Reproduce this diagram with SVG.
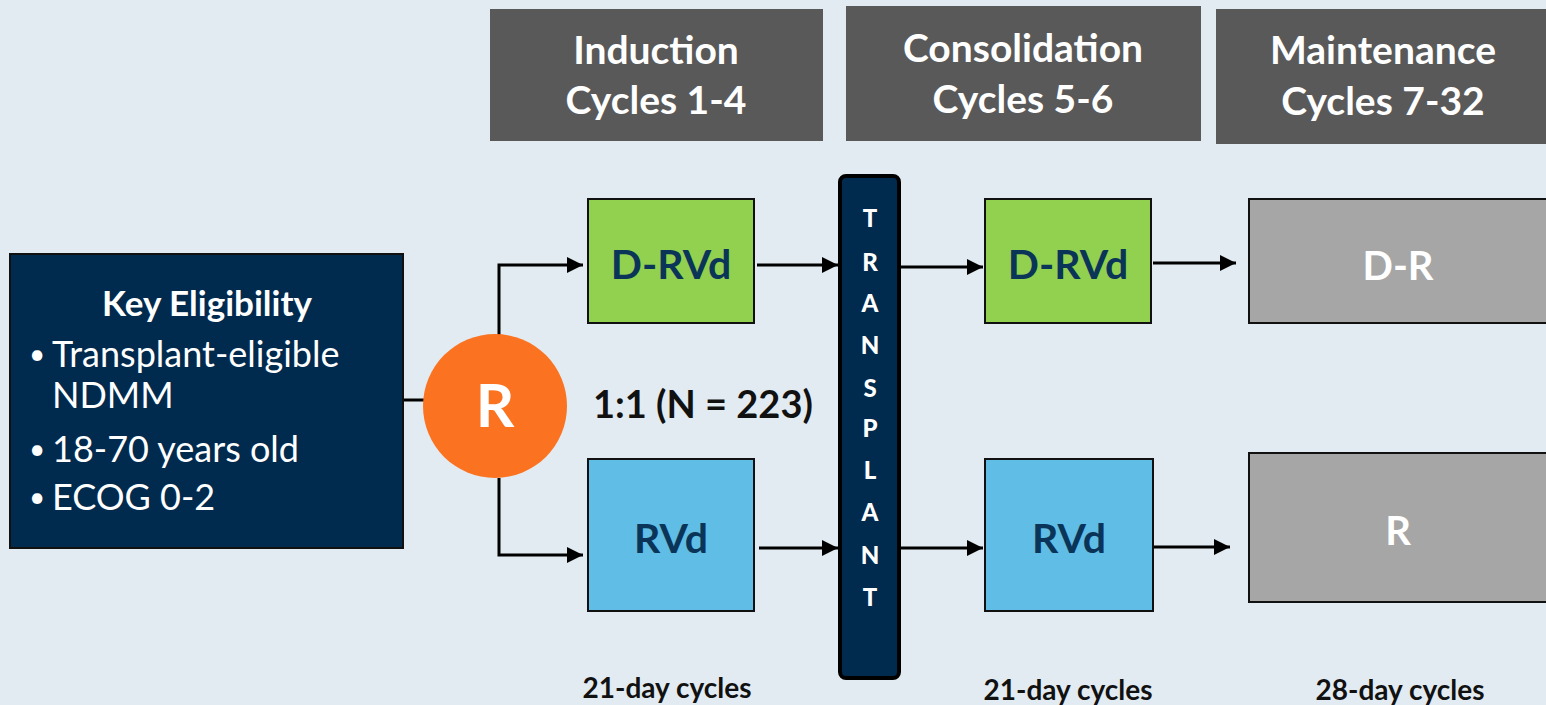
<svg xmlns="http://www.w3.org/2000/svg" width="1546" height="705" viewBox="0 0 1546 705">
<defs>
<style>
text{font-family:Lato,"Open Sans","Liberation Sans",sans-serif;font-weight:bold}
.hdr{fill:#595959}
.ht{fill:#fff;font-size:39px;text-anchor:middle}
.at{fill:#0b3558;font-size:41px;text-anchor:middle}
.mt{fill:#fff;font-size:40px;text-anchor:middle}
.tl{fill:#fff;font-size:24px;text-anchor:middle;font-weight:900}
.cyc{fill:#111;font-size:28px;text-anchor:middle}
.bl{fill:#fff;font-size:36px;font-weight:normal}
.bu{fill:#fff;font-size:28px;font-weight:normal}
.ln{stroke:#000;stroke-width:3;fill:none}
</style>
<marker id="ah" viewBox="0 0 10 10" refX="10" refY="5" markerWidth="5.5" markerHeight="5.5" markerUnits="strokeWidth" orient="auto"><path d="M0,0 L10,5 L0,10 z" fill="#000"/></marker>
</defs>
<rect width="1546" height="705" fill="#e2ebf1"/>
<g id="hdr-induction"><rect class="hdr" x="490" y="9" width="333" height="132"/><text class="ht" x="656" y="64">Induction</text><text class="ht" x="656" y="114">Cycles 1-4</text></g>
<g id="hdr-consolidation"><rect class="hdr" x="846" y="6" width="355" height="135"/><text class="ht" x="1023" y="62">Consolidation</text><text class="ht" x="1023" y="113">Cycles 5-6</text></g>
<g id="hdr-maintenance"><rect class="hdr" x="1216" y="9" width="330" height="135"/><text class="ht" x="1383" y="64">Maintenance</text><text class="ht" x="1383" y="115">Cycles 7-32</text></g>
<g id="connectors">
<path class="ln" d="M403,400 H426"/>
<path class="ln" d="M499,335 V265 H583" marker-end="url(#ah)"/>
<path class="ln" d="M499,478 V555 H583" marker-end="url(#ah)"/>
<path class="ln" d="M757,265 H838" marker-end="url(#ah)"/>
<path class="ln" d="M759,548 H838" marker-end="url(#ah)"/>
<path class="ln" d="M901,267 H983" marker-end="url(#ah)"/>
<path class="ln" d="M901,548 H983" marker-end="url(#ah)"/>
<path class="ln" d="M1153,263 H1236" marker-end="url(#ah)"/>
<path class="ln" d="M1147,547 H1230" marker-end="url(#ah)"/>
</g>
<g id="eligibility"><rect x="10" y="254" width="393" height="294" fill="#002a4e" stroke="#111" stroke-width="2"/>
<text x="207" y="316" fill="#fff" font-size="35" text-anchor="middle">Key Eligibility</text>
<text class="bu" x="29" y="364">•</text><text class="bl" x="52" y="367">Transplant-eligible</text>
<text class="bl" x="52" y="408">NDMM</text>
<text class="bu" x="29" y="459">•</text><text class="bl" x="52" y="462">18-70 years old</text>
<text class="bu" x="29" y="507">•</text><text class="bl" x="52" y="510">ECOG 0-2</text>
</g>
<g id="randomize"><circle cx="495" cy="406" r="72" fill="#fb7320"/><text x="495" y="427" fill="#fff" font-size="60" text-anchor="middle">R</text></g>
<g id="ratio"><text x="593" y="418" fill="#111" font-size="38">1:1 (N = 223)</text></g>
<g id="ind-drvd"><rect x="588" y="199" width="166" height="124" fill="#92d050" stroke="#111" stroke-width="2"/><text class="at" x="671" y="279">D-RVd</text></g>
<g id="ind-rvd"><rect x="588" y="459" width="166" height="152" fill="#5fbde6" stroke="#111" stroke-width="2"/><text class="at" x="671" y="553">RVd</text></g>
<g id="transplant"><rect x="840" y="176" width="59" height="502" rx="6" fill="#002a4e" stroke="#000" stroke-width="4"/>
<text class="tl" x="870" y="227">T</text><text class="tl" x="870" y="271">R</text><text class="tl" x="870" y="312">A</text><text class="tl" x="870" y="354">N</text><text class="tl" x="870" y="397">S</text><text class="tl" x="870" y="437">P</text><text class="tl" x="870" y="479">L</text><text class="tl" x="870" y="521">A</text><text class="tl" x="870" y="564">N</text><text class="tl" x="870" y="606">T</text></g>
<g id="con-drvd"><rect x="985" y="199" width="166" height="124" fill="#92d050" stroke="#111" stroke-width="2"/><text class="at" x="1068" y="279">D-RVd</text></g>
<g id="con-rvd"><rect x="985" y="459" width="168" height="152" fill="#5fbde6" stroke="#111" stroke-width="2"/><text class="at" x="1069" y="553">RVd</text></g>
<g id="main-dr"><rect x="1249" y="199" width="298" height="124" fill="#a6a6a6" stroke="#111" stroke-width="2"/><text class="mt" x="1398" y="280">D-R</text></g>
<g id="main-r"><rect x="1249" y="453" width="298" height="149" fill="#a6a6a6" stroke="#111" stroke-width="2"/><text class="mt" x="1398" y="545">R</text></g>
<g id="cycle-labels"><text class="cyc" x="667" y="698">21-day cycles</text><text class="cyc" x="1068" y="700">21-day cycles</text><text class="cyc" x="1400" y="700">28-day cycles</text></g>
</svg>
